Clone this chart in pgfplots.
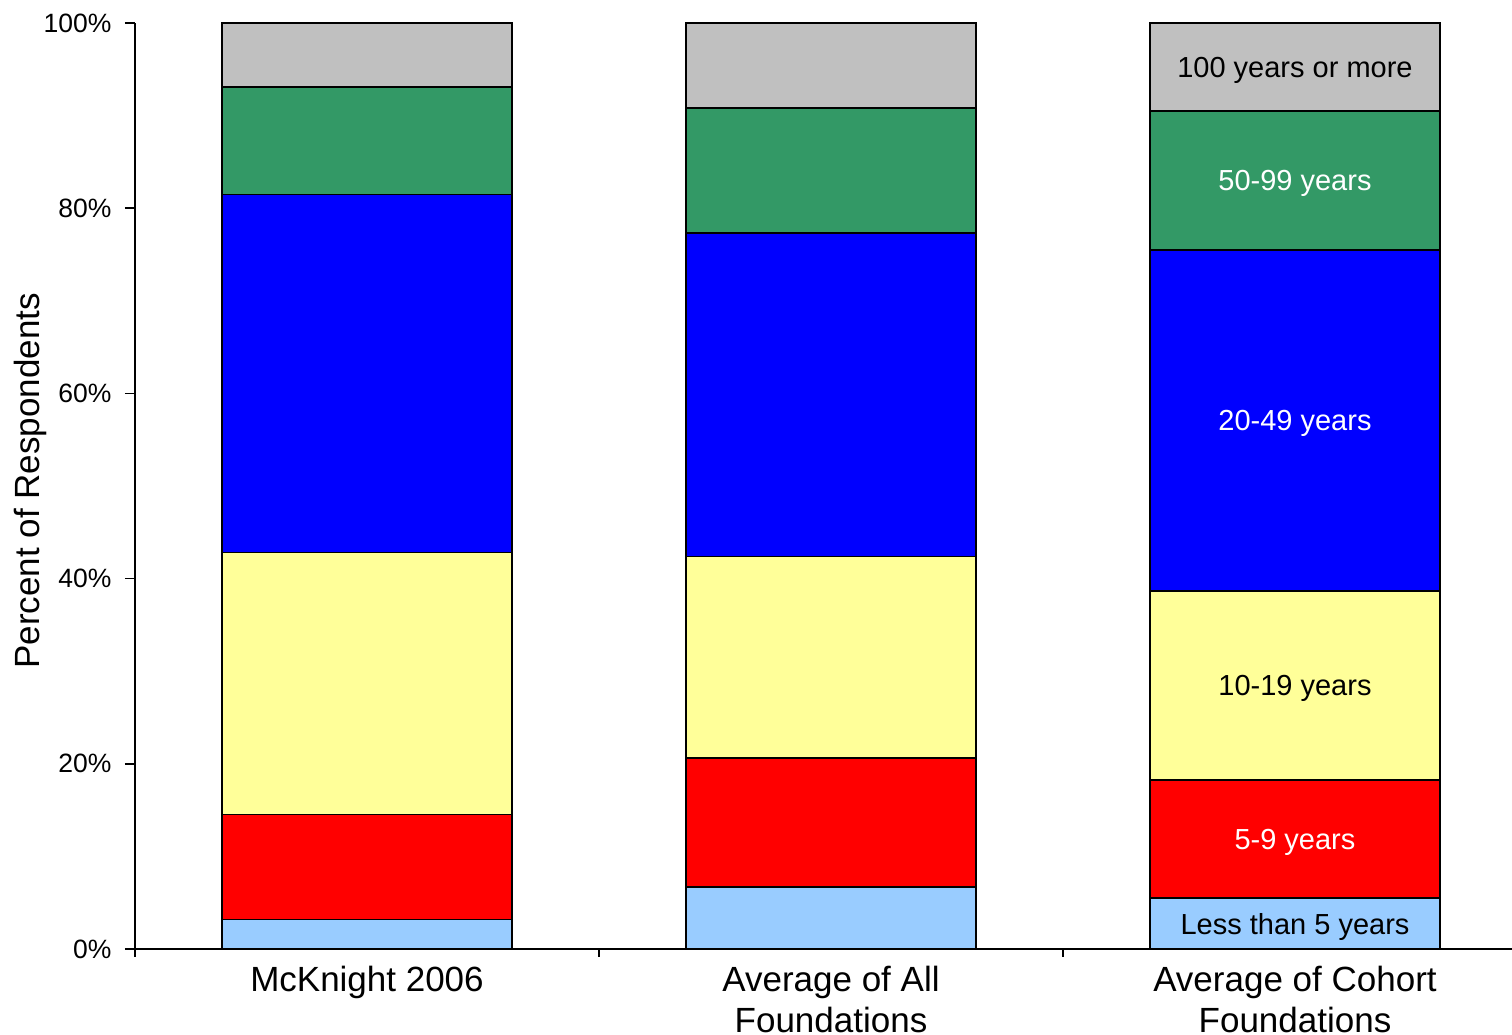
\documentclass[border=0pt]{standalone}
\usepackage{pgfplots}
\pgfplotsset{compat=1.18}
\usepackage{pgfplotstable}
\usepackage{fontspec}
\setmainfont{Liberation Sans}
\definecolor{cLB}{RGB}{153,204,255}
\definecolor{cRed}{RGB}{255,0,0}
\definecolor{cYel}{RGB}{255,255,153}
\definecolor{cBlue}{RGB}{0,0,255}
\definecolor{cGreen}{RGB}{51,153,102}
\definecolor{cGray}{RGB}{192,192,192}
\pgfplotstableread{
x a b c d e f
0 3.2 11.3 28.3 38.7 11.6 6.9
1 6.7 13.9 21.8 34.9 13.5 9.2
2 5.5 12.75 20.4 36.85 15.0 9.5
}\datatable
\pgfplotsset{geom/.style={
  at={(0pt,0pt)}, anchor=south west,
  scale only axis,
  width=1377pt, height=926pt,
  xmin=-0.5, xmax=2.4677,
  ymin=0, ymax=100}}
\begin{document}
\begin{tikzpicture}
\useasboundingbox (-135pt,-86pt) rectangle (1377pt,949pt);
\clip (-135pt,-86pt) rectangle (1377pt,949pt);
\begin{axis}[
  geom,
  ybar stacked,
  bar width=290pt,
  axis x line*=bottom, axis y line*=left,
  axis line style={-, line width=1.6pt},
  xtick={0,1,2},
  xticklabels={McKnight 2006,{Average of All\\Foundations},{Average of Cohort\\Foundations}},
  major x tick style={draw=none},
  minor xtick={-0.5,0.5,1.5},
  minor tick length=8pt,
  x tick label style={align=center, font=\fontsize{35}{41}\selectfont, yshift=-4pt},
  ytick={0,20,40,60,80,100},
  yticklabels={0\%,20\%,40\%,60\%,80\%,100\%},
  y tick label style={font=\fontsize{26.5}{30}\selectfont, xshift=-10pt},
  tick align=outside,
  major tick length=10pt,
  tick style={line width=1.6pt, black},
  ylabel={Percent of Respondents},
  ylabel style={font=\fontsize{35}{41}\selectfont, yshift=-10pt, xshift=5pt},
  /pgf/number format/assume math mode=true,
]
\addplot[fill=cLB, draw=black, line width=1.5pt] table[x=x,y=a]{\datatable};
\addplot[fill=cRed, draw=black, line width=1.5pt] table[x=x,y=b]{\datatable};
\addplot[fill=cYel, draw=black, line width=1.5pt] table[x=x,y=c]{\datatable};
\addplot[fill=cBlue, draw=black, line width=1.5pt] table[x=x,y=d]{\datatable};
\addplot[fill=cGreen, draw=black, line width=1.5pt] table[x=x,y=e]{\datatable};
\addplot[fill=cGray, draw=black, line width=1.5pt] table[x=x,y=f]{\datatable};
\end{axis}
\begin{axis}[geom, hide axis]
\node[black, font=\fontsize{29}{34}\selectfont, yshift=-3pt] at (axis cs:2,2.75) {Less than 5 years};
\node[white, font=\fontsize{29}{34}\selectfont, yshift=-3pt] at (axis cs:2,11.875) {5-9 years};
\node[black, font=\fontsize{29}{34}\selectfont, yshift=-3pt] at (axis cs:2,28.45) {10-19 years};
\node[white, font=\fontsize{29}{34}\selectfont, yshift=-3pt] at (axis cs:2,57.075) {20-49 years};
\node[white, font=\fontsize{29}{34}\selectfont, yshift=-3pt] at (axis cs:2,83.0) {50-99 years};
\node[black, font=\fontsize{29}{34}\selectfont, yshift=-3pt] at (axis cs:2,95.25) {100 years or more};
\end{axis}
\end{tikzpicture}
\end{document}
